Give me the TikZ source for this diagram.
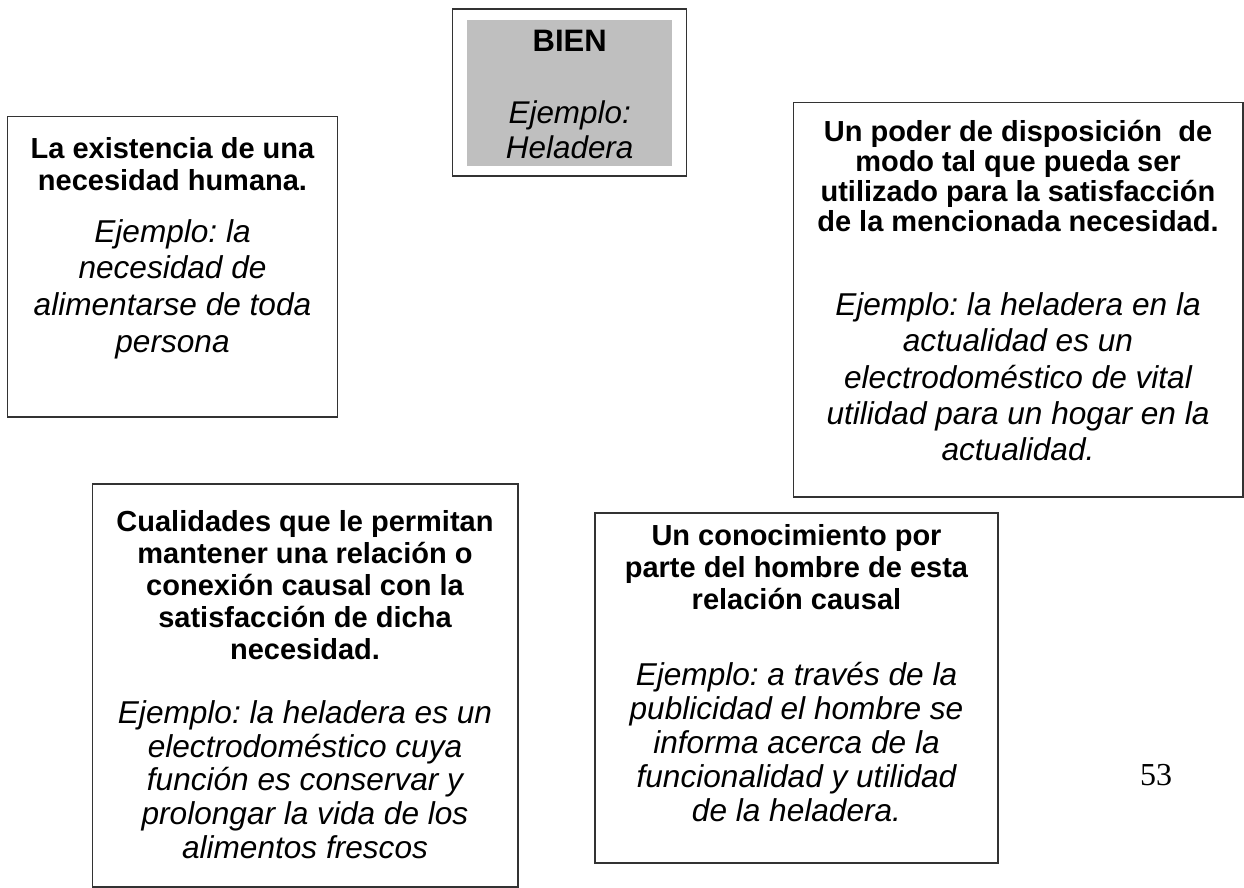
\documentclass[tikz,border=0pt]{standalone}
\usepackage{fontspec}
\setmainfont{Liberation Sans}
\newfontfamily\pagefont{Liberation Serif}

\newcommand{\lnstrut}{\rule{0pt}{15pt}}

\tikzset{
  frame/.style={draw=black!80, line width=0.6pt},
  headtext/.style={font=\bfseries\fontsize{14.5}{#1}\selectfont,
    align=center, inner sep=0pt, anchor=north},
  headtext/.default=16,
  exampletext/.style={font=\itshape\fontsize{15.8}{#1}\selectfont,
    align=center, inner sep=0pt, anchor=north},
  exampletext/.default=18.3
}

\begin{document}
\frenchspacing
\lineskiplimit=-50pt
\begin{tikzpicture}[x=0.5pt,y=-0.5pt]
\useasboundingbox (0,0) rectangle (1244,888);

%% boxes
\draw[frame, fill=white] (452.7,9) rectangle (686.7,176);      %% bien
\fill[gray!50] (466.7,20) rectangle (671.7,165.7);             %% bien, shaded
\draw[frame] (7.3,116.7) rectangle (337.7,417);                %% necesidad
\draw[frame] (793.3,102.7) rectangle (1243,497);               %% poder
\draw[frame] (92.3,484) rectangle (518,887);                   %% cualidades
\draw[frame] (595,513) rectangle (998,863);                    %% conocimiento

%% titles
\node[headtext, font=\bfseries\fontsize{15.5}{17.8}\selectfont] (bien) at (569.7,20.7) {\lnstrut BIEN};
\node[headtext=16.15] (necTitle) at (172.5,127.7) {\lnstrut La existencia de una\\necesidad humana.};
\node[headtext=15] (poderTitle) at (1018,111.5) {\lnstrut Un poder de disposición~ de\\modo tal que pueda ser\\utilizado para la satisfacción\\de la mencionada necesidad.};
\node[headtext=16] (cualTitle) at (305,501) {\lnstrut Cualidades que le permitan\\mantener una relación o\\conexión causal con la\\satisfacción de dicha\\necesidad.};
\node[headtext=16] (conocTitle) at (796.5,515) {\lnstrut Un conocimiento por\\parte del hombre de esta\\relación causal};

%% examples
\node[exampletext, font=\itshape\fontsize{15.7}{17.8}\selectfont] (bienEj) at (569.7,92.7) {\lnstrut Ejemplo:\\Heladera};
\node[exampletext=18.35] (necEj) at (172.5,211.7) {\lnstrut Ejemplo: la\\necesidad de\\alimentarse de toda\\persona};
\node[exampletext=18.15] (poderEj) at (1018,285) {\lnstrut Ejemplo: la heladera en la\\actualidad es un\\electrodoméstico de vital\\utilidad para un hogar en la\\actualidad.};
\node[exampletext=16.85] (cualEj) at (305,693) {\lnstrut Ejemplo: la heladera es un\\electrodoméstico cuya\\función es conservar y\\prolongar la vida de los\\alimentos frescos};
\node[exampletext=17] (conocEj) at (796.5,655) {\lnstrut Ejemplo: a través de la\\publicidad el hombre se\\informa acerca de la\\funcionalidad y utilidad\\de la heladera.};

%% page number
\node[anchor=base, inner sep=0pt, font=\pagefont\fontsize{16}{18}\selectfont] (pagenum) at (1156,785) {53};
\end{tikzpicture}
\end{document}
